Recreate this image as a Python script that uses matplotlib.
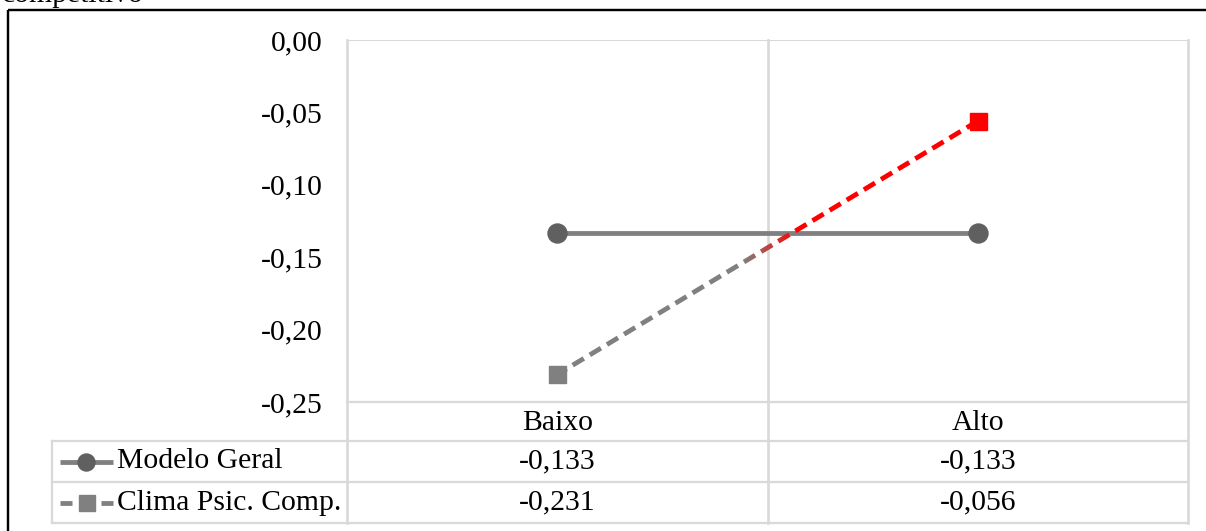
import numpy as np
import matplotlib
matplotlib.use("Agg")
import matplotlib.pyplot as plt
from matplotlib.patches import Rectangle
from matplotlib.ticker import FuncFormatter

# ---- data -------------------------------------------------------------
categories = ["Baixo", "Alto"]
series_names = ["Modelo Geral", "Clima Psic. Comp."]
modelo_geral = [-0.133, -0.133]
clima_psic = [-0.231, -0.056]
y_ticks = [0.00, -0.05, -0.10, -0.15, -0.20, -0.25]
caption_tail = "competitivo"

# ---- styling ----------------------------------------------------------
W, H, DPI = 1206, 531, 100
PX = 72.0 / DPI                       # points per pixel
plt.rcParams["font.family"] = ["Liberation Serif", "DejaVu Serif"]
plt.rcParams["lines.scale_dashes"] = False
FS = 21.3
GRID = "#d9d9d9"
LINE_GRAY = "#808080"
MARK_GRAY = "#606060"
RED = "#ff0000"
LW = 4.8 * PX


def comma(v, nd):
    return f"{v:.{nd}f}".replace(".", ",")


fig = plt.figure(figsize=(W / DPI, H / DPI), dpi=DPI, facecolor="white")

# overlay in pixel coordinates for frame and data table
ov = fig.add_axes([0, 0, 1, 1], zorder=0)
ov.set_xlim(0, W)
ov.set_ylim(H, 0)
ov.axis("off")

# plot area
x_left, x_right, y_top, y_bot = 347, 1188, 40, 402
ax = fig.add_axes([x_left / W, 1 - y_bot / H, (x_right - x_left) / W, (y_bot - y_top) / H],
                  zorder=1)
ax.set_facecolor("none")
ax.set_xlim(0, len(categories))
ax.set_ylim(min(y_ticks), max(y_ticks))
for s in ax.spines.values():
    s.set_visible(False)
ax.set_yticks(y_ticks)
ax.yaxis.set_major_formatter(FuncFormatter(lambda v, p: comma(v, 2)))
ax.tick_params(axis="y", length=0, pad=24 * PX, labelsize=FS)
ax.set_xticks([])

# top gridline of the plot area
ax.axhline(max(y_ticks), color=GRID, lw=1.5, zorder=0)

xs = np.arange(len(categories)) + 0.5

# Modelo Geral: solid line with circle markers
ax.plot(xs, modelo_geral, color=LINE_GRAY, lw=LW, solid_capstyle="butt", zorder=3)
ax.plot(xs, modelo_geral, ls="none", marker="o", ms=19 * PX, color=MARK_GRAY,
        mec=MARK_GRAY, zorder=5)

# Clima Psic. Comp.: dashed line fading from gray to red
c0 = np.array([0x80, 0x80, 0x80]) / 255
c1 = np.array([0xff, 0x00, 0x00]) / 255
g0, g1 = 0.94, 1.07
edges = np.concatenate(([-1.0], np.linspace(g0, g1, 25), [3.0]))
for i in range(len(edges) - 1):
    t = np.clip(((edges[i] + edges[i + 1]) / 2 - g0) / (g1 - g0), 0, 1)
    col = (1 - t) * c0 + t * c1
    ln, = ax.plot(xs, clima_psic, color=col, lw=LW, ls=(2 * PX, (13 * PX, 7 * PX)),
                  dash_capstyle="butt", zorder=4)
    clip = Rectangle((edges[i], -1), edges[i + 1] - edges[i], 2, transform=ax.transData)
    ln.set_clip_path(clip)
ax.plot(xs[0], clima_psic[0], ls="none", marker="s", ms=17 * PX, color=LINE_GRAY,
        mec=LINE_GRAY, zorder=6)
ax.plot(xs[1], clima_psic[1], ls="none", marker="s", ms=17 * PX, color=RED,
        mec=RED, zorder=6)

# ---- data table -------------------------------------------------------
row_edges = [402, 441, 482, 523]
col_edges = [52, x_left, 768, x_right]
tl = 1.6
# horizontal lines
ov.plot([x_left, x_right], [row_edges[0]] * 2, color=GRID, lw=tl)
for r in row_edges[1:]:
    ov.plot([col_edges[0], x_right], [r, r], color=GRID, lw=tl)
# vertical lines (category borders run up through the plot area)
ov.plot([col_edges[0]] * 2, [row_edges[1], row_edges[3]], color=GRID, lw=tl)
for c in col_edges[1:]:
    ov.plot([c, c], [y_top, row_edges[3]], color=GRID, lw=tl + 0.3)

row_mid = [(row_edges[i] + row_edges[i + 1]) / 2 for i in range(3)]
col_mid = [(col_edges[i] + col_edges[i + 1]) / 2 for i in range(1, 3)]
for cx, name in zip(col_mid, categories):
    ov.text(cx, row_mid[0] + 1, name, ha="center", va="center", fontsize=FS)
for ri, vals in enumerate([modelo_geral, clima_psic], start=1):
    for cx, v in zip(col_mid, vals):
        ov.text(cx, row_mid[ri], comma(v, 3), ha="center", va="center", fontsize=FS)

# legend keys in the first column
ky = row_mid[1]
ov.plot([60, 113], [ky, ky], color=LINE_GRAY, lw=LW, solid_capstyle="butt")
ov.plot([86], [ky], marker="o", ms=17 * PX, color=MARK_GRAY, mec=MARK_GRAY)
ky = row_mid[2]
ov.plot([60, 72], [ky, ky], color=LINE_GRAY, lw=LW, solid_capstyle="butt")
ov.plot([101, 113], [ky, ky], color=LINE_GRAY, lw=LW, solid_capstyle="butt")
ov.plot([87], [ky], marker="s", ms=16 * PX, color=LINE_GRAY, mec=LINE_GRAY)
for ri, name in enumerate(series_names, start=1):
    ov.text(117, row_mid[ri], name, ha="left", va="center", fontsize=FS)

# outer frame and caption fragment above it (page text continuing off the top)
ov.plot([8, 8], [10, H + 5], color="black", lw=2 * PX + 0.3, solid_capstyle="butt")
ov.plot([8, W + 5], [10, 10], color="black", lw=2 * PX + 0.3, solid_capstyle="butt")
ov.text(2, 2, caption_tail, ha="left", va="baseline", fontsize=FS)

fig.savefig("out.png", dpi=DPI, facecolor="white")
